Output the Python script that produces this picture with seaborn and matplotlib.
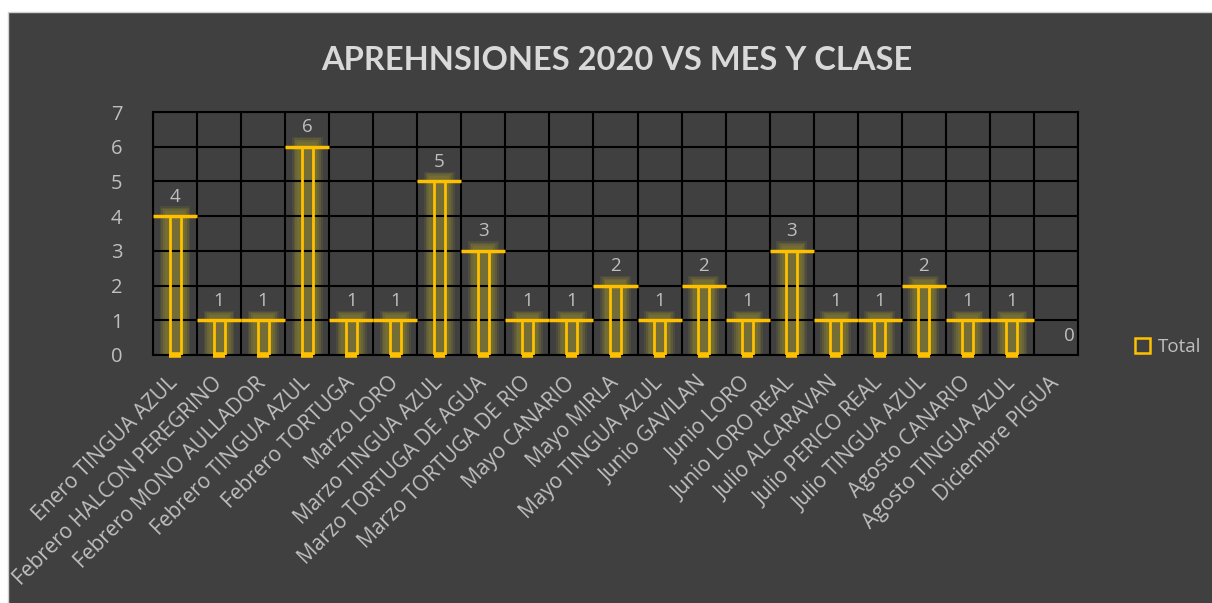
import numpy as np
import pandas as pd
import matplotlib
matplotlib.use('Agg')
import matplotlib.pyplot as plt
from matplotlib.patches import Rectangle, Patch
import seaborn as sns

# datos del grafico
categorias = ['Enero TINGUA AZUL', 'Febrero HALCON PEREGRINO', 'Febrero MONO AULLADOR',
              'Febrero TINGUA AZUL', 'Febrero TORTUGA', 'Marzo LORO', 'Marzo TINGUA AZUL',
              'Marzo TORTUGA DE AGUA', 'Marzo TORTUGA DE RIO', 'Mayo CANARIO', 'Mayo MIRLA',
              'Mayo TINGUA AZUL', 'Junio GAVILAN', 'Junio LORO', 'Junio LORO REAL',
              'Julio ALCARAVAN', 'Julio PERICO REAL', 'Julio TINGUA AZUL', 'Agosto CANARIO',
              'Agosto TINGUA AZUL', 'Diciembre PIGUA']
total = [4, 1, 1, 6, 1, 1, 5, 3, 1, 1, 2, 1, 2, 1, 3, 1, 1, 2, 1, 1, 0]
titulo = 'APREHNSIONES 2020 VS MES Y CLASE'

fondo = '#404040'
amarillo = '#FFC000'
oliva = '#746e36'
texto = '#BFBFBF'

sns.set_style('white')
plt.rcParams['font.family'] = ['Open Sans', 'DejaVu Sans']

df = pd.DataFrame({'Clase': categorias, 'Total': total})

fig = plt.figure(figsize=(12.12, 6.03), dpi=100, facecolor='white')
fig.patches.append(Rectangle((8 / 1212, -0.1), 1, 0.1 + 591 / 603, transform=fig.transFigure,
                             facecolor=fondo, edgecolor='#d0d0d0', linewidth=1, zorder=-5))
ax = fig.add_axes([153 / 1212, 1 - 355 / 603, 925 / 1212, 243 / 603])
ax.set_facecolor(fondo)

x = np.arange(len(categorias))
con_valor = df['Total'] > 0
# brillo alrededor de las barras (debajo de la rejilla)
for w, extra, a in [(0.70, 0.28, 0.25), (0.62, 0.24, 0.4), (0.54, 0.2, 0.6), (0.46, 0.15, 1.0)]:
    ax.bar(x[con_valor], df['Total'][con_valor] + extra, width=w, color=oliva, alpha=a,
           linewidth=0, zorder=0.3)

sns.barplot(data=df[con_valor], x='Clase', y='Total', order=categorias, width=0.25,
            color=amarillo, edgecolor=amarillo, linewidth=2, ax=ax, zorder=3)
for barra in ax.containers[-1]:
    barra.set_facecolor('none')
ax.hlines(df['Total'][con_valor], x[con_valor] - 0.5, x[con_valor] + 0.5, colors=amarillo,
          linewidth=2.5, zorder=4)
ax.hlines(np.zeros(con_valor.sum()), x[con_valor] - 0.13, x[con_valor] + 0.13, colors=amarillo,
          linewidth=4, zorder=4, clip_on=False)

for i, v in enumerate(total):
    ax.text(i + (0.3 if v == 0 else 0), v + 0.3, str(v), ha='center', va='bottom',
            color=texto, fontsize=13.5, zorder=5)

ax.set_xlim(-0.5, len(categorias) - 0.5)
ax.set_ylim(0, 7)
ax.set_yticks(range(8))
ax.set_xticks(np.arange(len(categorias) + 1) - 0.5, minor=True)
ax.grid(True, axis='y', color='black', linewidth=1.5)
ax.grid(True, axis='x', which='minor', color='black', linewidth=1.5)
ax.grid(False, axis='x', which='major')
ax.set_axisbelow(True)
for s in ax.spines.values():
    s.set_color('black')
    s.set_linewidth(1.5)
ax.tick_params(axis='both', which='both', length=0, colors=texto)
ax.tick_params(axis='y', pad=22, labelsize=14.5)
ax.tick_params(axis='x', pad=18, labelsize=15)
ax.set_xticks(x)
ax.set_xticklabels(categorias, rotation=45, ha='right', va='center', rotation_mode='anchor')
ax.set_xlabel('')
ax.set_ylabel('')

fig.text(617 / 1212, 1 - 60 / 603, titulo, ha='center', va='center', color='#D9D9D9',
         fontsize=23.5, fontweight='bold', family=['Lato', 'DejaVu Sans'])

leg = fig.legend(handles=[Patch(facecolor='none', edgecolor=amarillo, linewidth=1.8, label='Total')],
                 loc='center left', bbox_to_anchor=(1118 / 1212, 1 - 347 / 603), frameon=False,
                 fontsize=13.5, handlelength=0.8, handleheight=0.8, handletextpad=0.4)
for t in leg.get_texts():
    t.set_color(texto)

fig.savefig('out.png', dpi=100, facecolor=fig.get_facecolor())
